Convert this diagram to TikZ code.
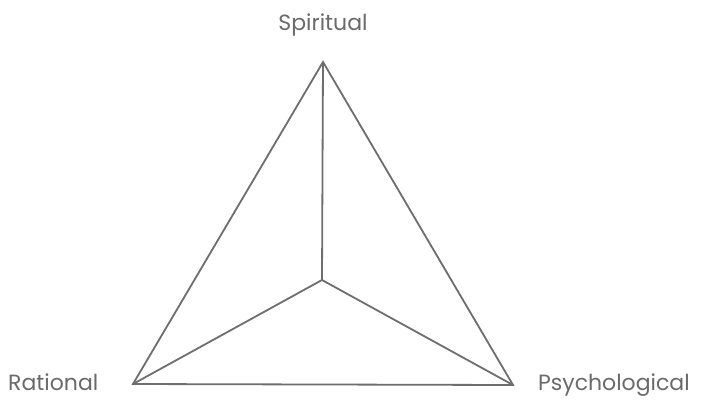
\documentclass[tikz,border=0pt]{standalone}
\usepackage{fontspec}
\setmainfont{Poppins}
\begin{document}
\begin{tikzpicture}[x=1pt,y=-1pt,
  edge/.style={draw=lineGray,line width=1.8pt,line join=miter},
  lbl/.style={text=textGray,font=\fontsize{22}{25}\selectfont,inner sep=0pt}]
\definecolor{lineGray}{HTML}{6E6E6E}
\definecolor{textGray}{HTML}{6A6A6A}
\useasboundingbox[fill=white] (0,0) rectangle (704,400);
\coordinate (T) at (323,62);
\coordinate (L) at (133,384);
\coordinate (R) at (513,385);
\coordinate (C) at (322,280);
\draw[edge] (T) -- (L) -- (R) -- cycle;
\draw[edge] (C) -- (T);
\draw[edge] (C) -- (L);
\draw[edge] (C) -- (R);
\node[lbl,anchor=base] (s) at (323,30) {Spiritual};
\node[lbl,anchor=base west] (r) at (8,390) {Rational};
\node[lbl,anchor=base west] (p) at (538,390) {Psychological};
\end{tikzpicture}
\end{document}
